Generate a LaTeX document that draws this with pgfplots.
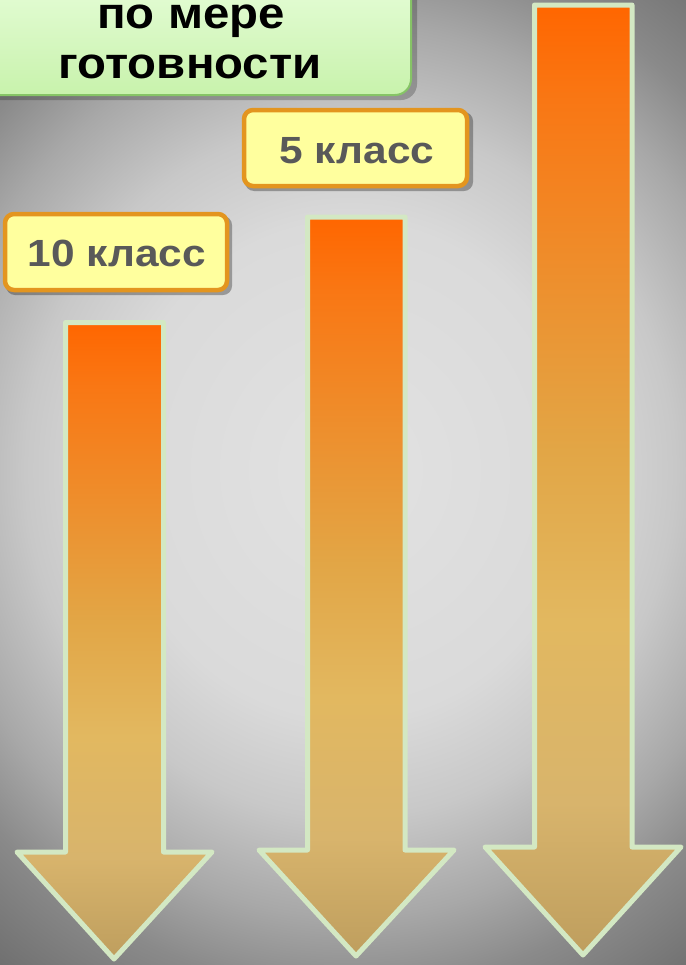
\documentclass[border=0pt]{standalone}
\usepackage{fontspec}
\setmainfont{Liberation Sans}
\usepackage{graphicx}
\usepackage{pgfplots}
\pgfplotsset{compat=1.18}

\definecolor{arr100}{HTML}{FF6600}
\definecolor{arr90}{HTML}{F97714}
\definecolor{arr72}{HTML}{EE8E2C}
\definecolor{arr53}{HTML}{E2A646}
\definecolor{arr35}{HTML}{E2B860}
\definecolor{arr16}{HTML}{D8B46C}
\definecolor{arr0}{HTML}{BE9E5E}
\definecolor{arrEdge}{HTML}{D3E8C3}
\definecolor{bg0}{HTML}{E2E2E2}
\definecolor{bg1}{HTML}{DADADA}
\definecolor{bg2}{HTML}{C8C8C8}
\definecolor{bg3}{HTML}{A8A8A8}
\definecolor{bg4}{HTML}{8A8A8A}
\definecolor{bg5}{HTML}{707070}
\definecolor{bg6}{HTML}{646464}
\definecolor{bg7}{HTML}{5C5C5C}
\definecolor{grTop}{HTML}{EAFFDE}
\definecolor{grBot}{HTML}{C8F2AC}
\definecolor{grEdge}{HTML}{86C466}
\definecolor{yelFill}{HTML}{FFFF9E}
\definecolor{yelEdge}{HTML}{E3951F}
\definecolor{txtgray}{HTML}{595959}

% the path's bounding box maps to the central 25bp..75bp of the shading
\pgfdeclareverticalshading{arrowsh}{100bp}{color(0bp)=(arr0); color(25bp)=(arr0); color(33bp)=(arr16); color(42.5bp)=(arr35); color(51.5bp)=(arr53); color(61bp)=(arr72); color(70bp)=(arr90); color(75bp)=(arr100); color(100bp)=(arr100)}
\pgfdeclareradialshading{bgsh}{\pgfpoint{0bp}{0bp}}{color(0bp)=(bg0); color(10bp)=(bg1); color(14bp)=(bg2); color(18bp)=(bg3); color(21bp)=(bg4); color(25bp)=(bg5); color(28bp)=(bg6); color(50bp)=(bg7)}

\begin{document}
\begin{tikzpicture}
\begin{axis}[width=686bp, height=965bp, scale only axis,
  xmin=0, xmax=686, ymin=0, ymax=965, y dir=reverse,
  hide axis, clip=true]
% background
\addplot[draw=none, shade, shading=bgsh] coordinates {(-230,-150) (930,-150) (930,1090) (-230,1090)} --cycle;
% arrows
\addplot[shade, shading=arrowsh, draw=arrEdge, line width=5bp, line join=round]
  coordinates {(65.5,322.5) (163.5,322.5) (163.5,852) (212,852) (114,959) (17,852) (65.5,852)} --cycle;
\addplot[shade, shading=arrowsh, draw=arrEdge, line width=5bp, line join=round]
  coordinates {(307.5,217) (405,217) (405,850) (454,850) (356,956) (259,850) (307.5,850)} --cycle;
\addplot[shade, shading=arrowsh, draw=arrEdge, line width=5bp, line join=round]
  coordinates {(534.5,5) (632,5) (632,847) (681,847) (583,955) (485,847) (534.5,847)} --cycle;
% green box
\addplot[fill=black, fill opacity=0.22, draw=none, rounded corners=16bp]
  coordinates {(-20,-40) (417,-40) (417,100) (-20,100)} --cycle;
\addplot[top color=grTop, bottom color=grBot, draw=grEdge, line width=2bp, rounded corners=16bp]
  coordinates {(-20,-40) (411,-40) (411,95) (-20,95)} --cycle;
% yellow boxes
\addplot[fill=black, fill opacity=0.3, draw=none, rounded corners=9bp]
  coordinates {(6,216) (232,216) (232,295) (6,295)} --cycle;
\addplot[fill=yelFill, draw=yelEdge, line width=4.5bp, rounded corners=9bp]
  coordinates {(5,214) (227,214) (227,290) (5,290)} --cycle;
\addplot[fill=black, fill opacity=0.3, draw=none, rounded corners=9bp]
  coordinates {(245,112) (473,112) (473,191) (245,191)} --cycle;
\addplot[fill=yelFill, draw=yelEdge, line width=4.5bp, rounded corners=9bp]
  coordinates {(244,110) (467,110) (467,186) (244,186)} --cycle;
% texts
\node[font=\fontsize{38}{44}\selectfont\bfseries, text=txtgray] at (axis cs:117,253.5) {\scalebox{1.12}[1]{10 класс}};
\node[font=\fontsize{38}{44}\selectfont\bfseries, text=txtgray] at (axis cs:357,150.5) {\scalebox{1.12}[1]{5 класс}};
\node[font=\fontsize{44}{52}\selectfont\bfseries, text=black, anchor=base] at (axis cs:191,28) {\scalebox{1.08}[1]{по мере}};
\node[font=\fontsize{44}{52}\selectfont\bfseries, text=black, anchor=base] at (axis cs:190,78) {\scalebox{1.08}[1]{готовности}};
\end{axis}
\pgfresetboundingbox
\useasboundingbox (current axis.south west) rectangle (current axis.north east);
\end{tikzpicture}
\end{document}
